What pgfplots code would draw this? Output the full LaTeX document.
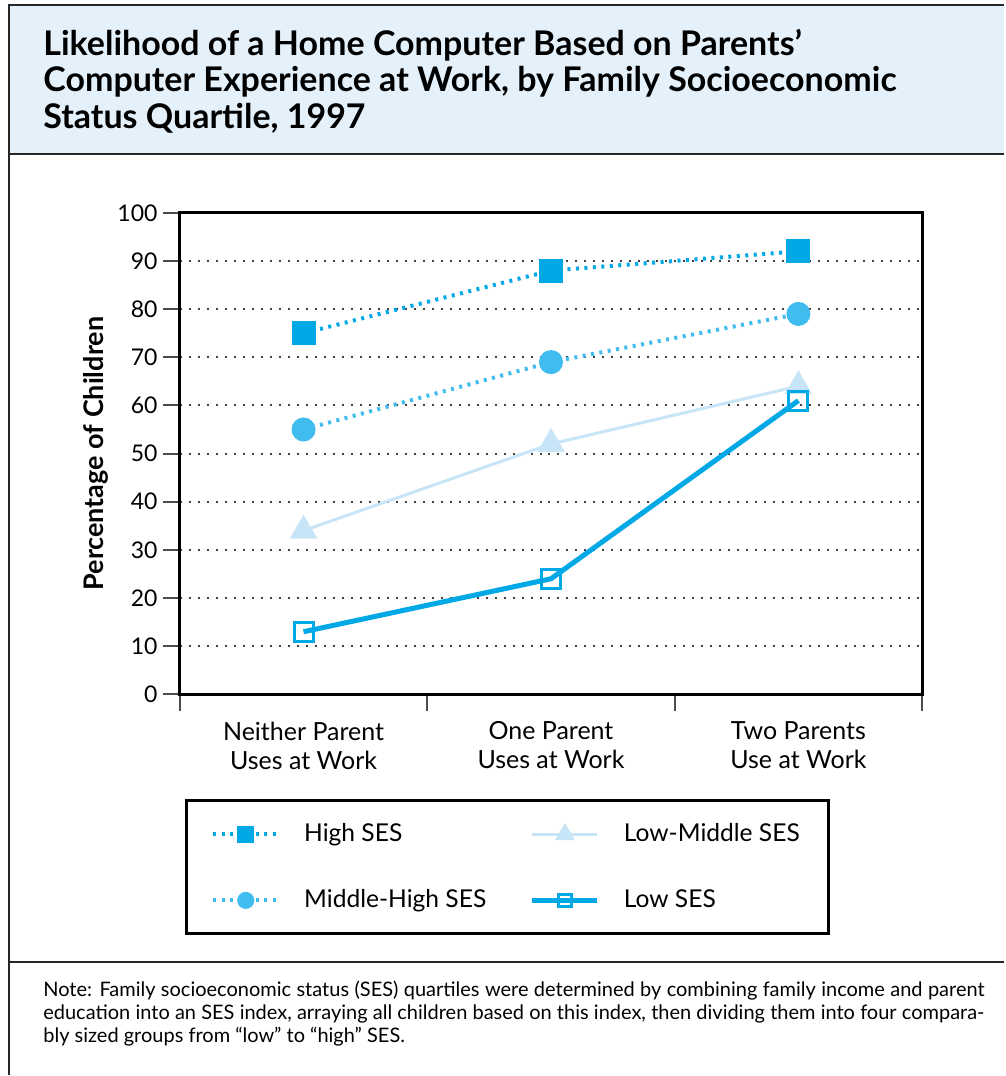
\documentclass[border=0pt]{standalone}
\usepackage{pgfplots}
\pgfplotsset{compat=1.18}
\usepackage{fontspec}
\setmainfont{Lato}

\definecolor{highses}{RGB}{0,168,230}
\definecolor{midhigh}{RGB}{64,188,238}
\definecolor{lowmid}{RGB}{200,229,247}
\definecolor{lowses}{RGB}{0,168,230}
\definecolor{titlebg}{RGB}{228,241,251}

\begin{document}
\begin{tikzpicture}[x=0.5pt,y=0.5pt]
  % page frame, coordinates in reference pixels (y up)
  \path (0,0) rectangle (1005,1076);
  \fill[titlebg] (9,922) rectangle (1005,1071);
  \draw[line width=1pt, black!85] (1005,1071) -- (9,1071) -- (9,0);
  \draw[line width=1pt, black!85] (9,922) -- (1005,922);
  \draw[line width=1pt, black!85] (9,113) -- (1005,113);

  \begin{scope}[font=\fontsize{17}{20}\selectfont\bfseries]
    \node[anchor=base west, inner sep=0pt] at (43,1020) {Likelihood of a Home Computer Based on Parents’};
    \node[anchor=base west, inner sep=0pt] at (43,984) {Computer Experience at Work, by Family Socioeconomic};
    \node[anchor=base west, inner sep=0pt] at (43,947) {Status Quartile, 1997};
  \end{scope}

  \begin{axis}[
    at={(90pt,190.5pt)}, anchor=south west,
    scale only axis, width=371.5pt, height=241pt,
    xmin=0, xmax=3, ymin=0, ymax=100,
    xtick={0.5,1.5,2.5},
    xticklabels={{Neither Parent\\Uses at Work},{One Parent\\Uses at Work},{Two Parents\\Use at Work}},
    minor xtick={0,1,2,3},
    ytick={0,10,...,100},
    /pgf/number format/assume math mode=true,
    tick align=outside, tick pos=left,
    major tick length=8.5pt, minor tick length=8.5pt,
    major x tick style={draw=none},
    tick style={line width=1pt, black!70},
    axis line style={line width=1.5pt},
    ymajorgrids,
    major grid style={dash pattern=on 1pt off 3.5pt, line width=1pt, black!75},
    xticklabel style={font=\fontsize{12.5}{14.5}\selectfont, align=center, inner sep=0pt, yshift=-5pt},
    yticklabel style={font=\fontsize{11.5}{13}\selectfont, inner xsep=2.5pt},
    ylabel={Percentage of Children},
    ylabel style={font=\fontsize{13.5}{15}\selectfont\bfseries, at={(axis description cs:-0.113,0.5)}, anchor=center},
    legend columns=2,
    legend cell align=left,
    legend style={at={(axis description cs:0.0067,-0.218)}, anchor=north west,
      draw=black, line width=1.5pt, inner xsep=12.5pt, inner ysep=9.5pt,
      font=\fontsize{12.3}{14}\selectfont, row sep=18.5pt,
      /tikz/every odd column/.append style={column sep=10pt},
      /tikz/every even column/.append style={column sep=0pt}},
    legend image code/.code={
      \draw[#1, mark repeat=2, mark phase=2, /tikz/every mark/.append style={scale=0.65}]
        plot coordinates {(0pt,0pt) (16.25pt,0pt) (32.5pt,0pt)};
    },
  ]
    \addplot[highses, line width=2pt, dash pattern=on 1.5pt off 2.75pt,
      mark=square*, mark size=5pt, mark options={solid, fill=highses, draw=none}]
      coordinates {(0.5,75) (1.5,88) (2.5,92)};
    \addlegendentry{\makebox[111pt][l]{High SES}}
    \addplot[lowmid, line width=1.5pt,
      mark=triangle*, mark size=6.5pt, mark options={solid, fill=lowmid, draw=none}]
      coordinates {(0.5,34) (1.5,52) (2.5,64)};
    \addlegendentry{Low-Middle SES}
    \addplot[midhigh, line width=2pt, dash pattern=on 1.5pt off 2.75pt,
      mark=*, mark size=5pt, mark options={solid, fill=midhigh, draw=none}]
      coordinates {(0.5,55) (1.5,69) (2.5,79)};
    \addlegendentry{\makebox[111pt][l]{Middle-High SES}}
    \addplot[lowses, line width=2.5pt,
      mark=square, mark size=4.75pt, mark options={solid, line width=1.5pt}]
      coordinates {(0.5,13) (1.5,24) (2.5,61)};
    \addlegendentry{Low SES}
  \end{axis}

  \begin{scope}[font=\fontsize{10}{12}\selectfont]
    \node[anchor=base west, inner sep=0pt] at (43,79) {\makebox[471pt][s]{Note: Family socioeconomic status (SES) quartiles were determined by combining family income and parent}};
    \node[anchor=base west, inner sep=0pt] at (43,56) {\makebox[471pt][s]{education into an SES index, arraying all children based on this index, then dividing them into four compara-}};
    \node[anchor=base west, inner sep=0pt] at (43,33) {bly sized groups from “low” to “high” SES.};
  \end{scope}
\end{tikzpicture}
\end{document}
